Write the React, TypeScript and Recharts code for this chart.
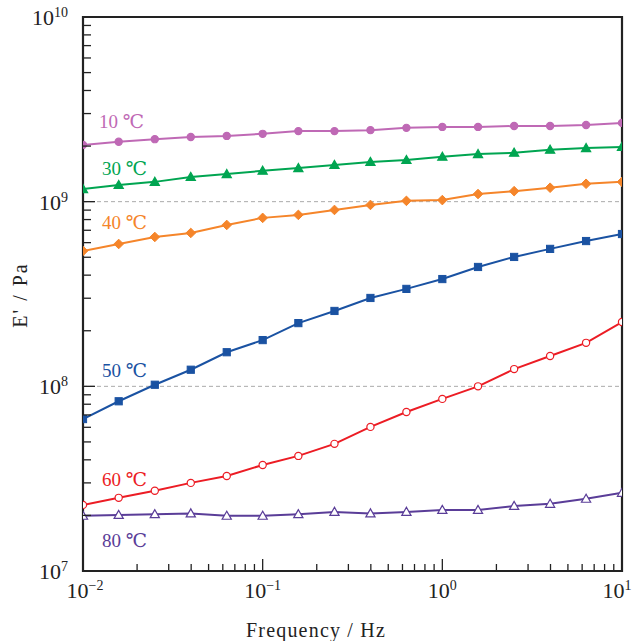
import React from "react";
import { LineChart, Line, XAxis, YAxis, ReferenceLine, ReferenceArea } from "recharts";

// frequency (Hz), 5 points per decade
const FREQ = [0.01, 0.0158, 0.0251, 0.0398, 0.0631, 0.1, 0.158, 0.251, 0.398, 0.631, 1, 1.58, 2.51, 3.98, 6.31, 10];

// storage modulus E' (Pa) per temperature
const T10 = [2.03e9, 2.11e9, 2.18e9, 2.24e9, 2.27e9, 2.33e9, 2.41e9, 2.41e9, 2.44e9, 2.51e9, 2.54e9, 2.54e9, 2.57e9, 2.57e9, 2.6e9, 2.67e9];
const T30 = [1.17e9, 1.23e9, 1.28e9, 1.36e9, 1.41e9, 1.47e9, 1.52e9, 1.58e9, 1.64e9, 1.68e9, 1.75e9, 1.81e9, 1.84e9, 1.91e9, 1.95e9, 1.98e9];
const T40 = [5.41e8, 5.9e8, 6.44e8, 6.77e8, 7.48e8, 8.17e8, 8.48e8, 9.02e8, 9.6e8, 1.01e9, 1.02e9, 1.1e9, 1.14e9, 1.19e9, 1.25e9, 1.28e9];
const T50 = [6.65e7, 8.3e7, 1.02e8, 1.23e8, 1.53e8, 1.78e8, 2.2e8, 2.56e8, 3.01e8, 3.37e8, 3.81e8, 4.43e8, 5.02e8, 5.55e8, 6.12e8, 6.68e8];
const T60 = [2.28e7, 2.49e7, 2.72e7, 3.0e7, 3.27e7, 3.75e7, 4.2e7, 4.88e7, 6.03e7, 7.26e7, 8.55e7, 1.0e8, 1.24e8, 1.46e8, 1.72e8, 2.23e8];
const T80 = [1.99e7, 2.01e7, 2.03e7, 2.05e7, 1.99e7, 1.99e7, 2.03e7, 2.09e7, 2.05e7, 2.09e7, 2.14e7, 2.14e7, 2.25e7, 2.31e7, 2.46e7, 2.65e7];

const X_TICKS = [0.01, 0.02, 0.03, 0.04, 0.05, 0.06, 0.07, 0.08, 0.09, 0.1, 0.2, 0.3, 0.4, 0.5, 0.6, 0.7, 0.8, 0.9, 1, 2, 3, 4, 5, 6, 7, 8, 9, 10];
const Y_TICKS = [1e7, 2e7, 3e7, 4e7, 5e7, 6e7, 7e7, 8e7, 9e7, 1e8, 2e8, 3e8, 4e8, 5e8, 6e8, 7e8, 8e8, 9e8, 1e9, 2e9, 3e9, 4e9, 5e9, 6e9, 7e9, 8e9, 9e9, 1e10];

const data = FREQ.map((f, i) => ({
  f,
  t10: T10[i],
  t30: T30[i],
  t40: T40[i],
  t50: T50[i],
  t60: T60[i],
  t80: T80[i]
}));

const FONT = "'Liberation Serif', 'DejaVu Serif', serif";
const INK = "#222";
const LEFT = 83;
const BOTTOM = 571;

const series = [
  { key: "t10", label: "10 ℃", color: "#bf69b5", shape: "circle", filled: true, lx: 99, ly: 128 },
  { key: "t30", label: "30 ℃", color: "#00a551", shape: "triangle", filled: true, lx: 102, ly: 175 },
  { key: "t40", label: "40 ℃", color: "#f5852a", shape: "diamond", filled: true, lx: 102, ly: 229 },
  { key: "t50", label: "50 ℃", color: "#1a52a2", shape: "square", filled: true, lx: 102, ly: 377 },
  { key: "t60", label: "60 ℃", color: "#ec1c24", shape: "circle", filled: false, lx: 102, ly: 486 },
  { key: "t80", label: "80 ℃", color: "#5a3d98", shape: "triangle", filled: false, lx: 102, ly: 547 }
];

const exponent = (v: number) => {
  const e = Math.round(Math.log10(v));
  return { e, major: Math.abs(Math.log10(v) - e) < 1e-6 };
};

const expText = (e: number) => (e < 0 ? "\u2212" + -e : String(e));

const XTick = (props: any) => {
  const { x, payload } = props;
  const { e, major } = exponent(payload.value);
  // keep the outer labels inside the page
  const shift = e === 1 ? -5 : e === -2 ? 2 : 0;
  return (
    <g>
      <line x1={x} x2={x} y1={BOTTOM} y2={BOTTOM - (major ? 12 : 7)} stroke={INK} strokeWidth={1.3} />
      {major && (
        <text x={x + shift} y={598} textAnchor="middle" fontFamily={FONT} fontSize={22} fill={INK}>
          <tspan>10</tspan>
          <tspan dy={-8} fontSize={14}>{expText(e)}</tspan>
        </text>
      )}
    </g>
  );
};

const YTick = (props: any) => {
  const { y, payload } = props;
  const { e, major } = exponent(payload.value);
  return (
    <g>
      <line x1={LEFT} x2={LEFT + (major ? 12 : 8)} y1={y} y2={y} stroke={INK} strokeWidth={1.3} />
      {major && (
        <text x={68} y={y + 8} textAnchor="end" fontFamily={FONT} fontSize={22} fill={INK}>
          <tspan>10</tspan>
          <tspan dy={-8} fontSize={14}>{expText(e)}</tspan>
        </text>
      )}
    </g>
  );
};

const makeDot = (shape: string, color: string, filled: boolean) => (props: any) => {
  const { cx, cy, index } = props;
  const fill = filled ? color : "#fff";
  const k = `d-${index}`;
  if (shape === "circle") {
    return <circle key={k} cx={cx} cy={cy} r={3.6} fill={fill} stroke={color} strokeWidth={1.2} />;
  }
  if (shape === "triangle") {
    const s = 4.6;
    return (
      <polygon
        key={k}
        points={`${cx},${cy - s} ${cx - s},${cy + s * 0.75} ${cx + s},${cy + s * 0.75}`}
        fill={fill}
        stroke={color}
        strokeWidth={1.2}
      />
    );
  }
  if (shape === "diamond") {
    const s = 4.8;
    return (
      <polygon
        key={k}
        points={`${cx},${cy - s} ${cx + s},${cy} ${cx},${cy + s} ${cx - s},${cy}`}
        fill={fill}
        stroke={color}
        strokeWidth={1}
      />
    );
  }
  return <rect key={k} x={cx - 3.6} y={cy - 3.6} width={7.2} height={7.2} fill={fill} stroke={color} strokeWidth={1} />;
};

const App = () => {
  return (
    <div style={{ position: "absolute", left: 0, top: 0 }}>
      <LineChart width={634} height={641} data={data} margin={{ top: 17, right: 12, bottom: 0, left: 0 }}>
        <XAxis
          dataKey="f"
          type="number"
          scale="log"
          domain={[0.01, 10]}
          allowDataOverflow
          ticks={X_TICKS}
          interval={0}
          height={70}
          axisLine={false}
          tickLine={false}
          tick={<XTick />}
        />
        <YAxis
          type="number"
          scale="log"
          domain={[1e7, 1e10]}
          allowDataOverflow
          ticks={Y_TICKS}
          interval={0}
          width={83}
          axisLine={false}
          tickLine={false}
          tick={<YTick />}
        />
        <ReferenceLine y={1e9} stroke="#aaa" strokeDasharray="4 3" strokeWidth={1} />
        <ReferenceLine y={1e8} stroke="#aaa" strokeDasharray="4 3" strokeWidth={1} />
        {series.map((s) => (
          <Line
            key={s.key}
            dataKey={s.key}
            type="linear"
            stroke={s.color}
            strokeWidth={2}
            dot={makeDot(s.shape, s.color, s.filled)}
            activeDot={false}
            isAnimationActive={false}
          />
        ))}
        <ReferenceArea
          x1={0.01}
          x2={10}
          y1={1e7}
          y2={1e10}
          fill="none"
          fillOpacity={0}
          stroke={INK}
          strokeWidth={2.2}
          ifOverflow="visible"
        />
        {series.map((s) => (
          <text key={`l-${s.key}`} x={s.lx} y={s.ly} fontFamily={FONT} fontSize={19} fill={s.color}>
            {s.label}
          </text>
        ))}
        <text
          x={27}
          y={295}
          transform="rotate(-90 27 295)"
          textAnchor="middle"
          fontFamily={FONT}
          fontSize={20}
          letterSpacing={2}
          fill={INK}
        >
          E' / Pa
        </text>
        <text x={316} y={637} textAnchor="middle" fontFamily={FONT} fontSize={20} letterSpacing={1.2} fill={INK}>
          Frequency / Hz
        </text>
      </LineChart>
    </div>
  );
};

export default App;
